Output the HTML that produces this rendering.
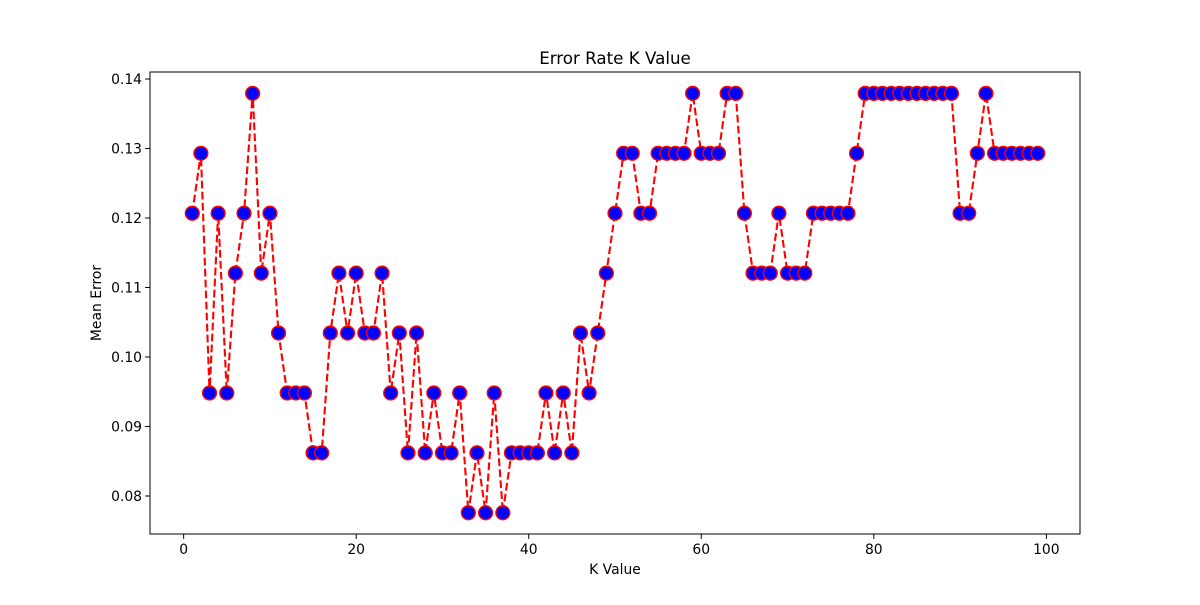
<!DOCTYPE html>
<html><head><meta charset="utf-8"><style>
body{margin:0;background:#fff}
svg text{font-family:"DejaVu Sans","Liberation Sans",sans-serif;fill:#000}
</style></head><body>
<svg id="chart" width="1200" height="600" xmlns="http://www.w3.org/2000/svg">
<rect width="1200" height="600" fill="#fff"/>
<g id="plot"></g>
<rect x="150" y="72" width="930" height="462" fill="none" stroke="#000" stroke-width="1"/>
<text x="615" y="64" font-size="16.7" text-anchor="middle">Error Rate K Value</text>
<text x="615" y="574" font-size="13.9" text-anchor="middle">K Value</text>
<text transform="translate(101,303) rotate(-90)" font-size="13.9" text-anchor="middle">Mean Error</text>
<g id="axes"></g>
</svg>
<script>
const kValues = Array.from({length:99},(_,i)=>i+1);
const errorCounts = [14,15,11,14,11,13,14,16,13,14,12,11,11,11,10,10,12,13,12,13,12,12,13,11,12,10,12,10,11,10,10,11,9,10,9,11,9,10,10,10,10,11,10,11,10,12,11,12,13,14,15,15,14,14,15,15,15,15,16,15,15,15,16,16,14,13,13,13,14,13,13,13,14,14,14,14,14,15,16,16,16,16,16,16,16,16,16,16,16,14,14,15,16,15,15,15,15,15,15];
const testSize = 116;
const xTicks = [0,20,40,60,80,100];
const yTicks = [0.08,0.09,0.10,0.11,0.12,0.13,0.14];
const yTickLabels = ["0.08","0.09","0.10","0.11","0.12","0.13","0.14"];
const errors = errorCounts.map(c=>c/testSize);

const L=150,R=1080,T=72,B=534;
const xmin=-3.9,xmax=103.9,ymin=0.07453,ymax=0.14101;
const xs=v=>L+(v-xmin)/(xmax-xmin)*(R-L);
const ys=v=>B-(v-ymin)/(ymax-ymin)*(B-T);
const NS="http://www.w3.org/2000/svg";
const plot=document.getElementById('plot'), axes=document.getElementById('axes');
function mk(tag,attrs,parent){const e=document.createElementNS(NS,tag);for(const k in attrs)e.setAttribute(k,attrs[k]);parent.appendChild(e);return e;}

const pts=kValues.map((k,i)=>xs(k).toFixed(2)+','+ys(errors[i]).toFixed(2)).join(' ');
const line=mk('polyline',{points:pts,fill:'none',stroke:'#ff0000','stroke-width':2.1,'stroke-dasharray':'7.7 3.3'},plot);


kValues.forEach((k,i)=>{
  const c=mk('circle',{cx:xs(k),cy:ys(errors[i]),r:6.9,fill:'#0000ff',stroke:'#ff0000','stroke-width':1.4},plot);
  
  
});
xTicks.forEach(t=>{
  const x=xs(t);
  const tk=mk('line',{x1:x,x2:x,y1:B,y2:B+4.9,stroke:'#000','stroke-width':1},axes);
  
  
  const tx=mk('text',{x:x,y:B+20,'font-size':13.9,'text-anchor':'middle'},axes);
  tx.textContent=t;
  
  
});
yTicks.forEach((t,i)=>{
  const y=ys(t);
  const tk=mk('line',{x1:L-4.9,x2:L,y1:y,y2:y,stroke:'#000','stroke-width':1},axes);
  
  
  const tx=mk('text',{x:L-8,y:y+5,'font-size':13.9,'text-anchor':'end'},axes);
  tx.textContent=yTickLabels[i];
  
  
});
</script>
</body></html>
